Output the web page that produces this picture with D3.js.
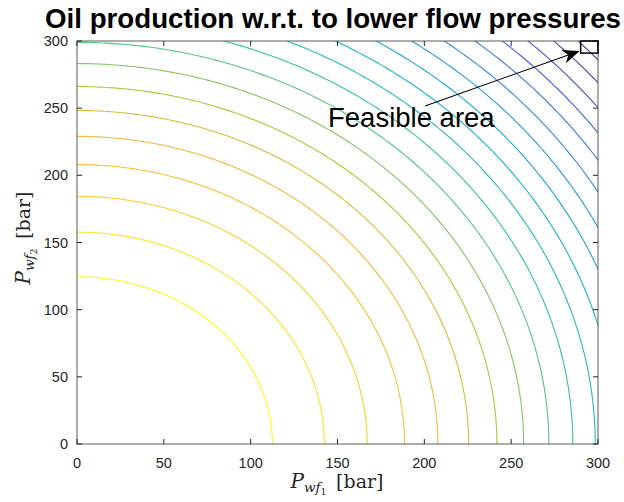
<!DOCTYPE html>
<html><head><meta charset="utf-8">
<script src="https://cdn.jsdelivr.net/npm/d3@7"></script>
<style>html,body{margin:0;padding:0;background:#fff;}</style>
</head><body>
<div id="chart"></div>
<script>
// Contour ellipses: x-axis semi-axis (a) and y-axis semi-axis (b), in bar
const contourA = [112.5,142.4,167.1,188.6,207.8,225.5,241.8,257.2,271.7,285.5,298.4,310.6,322.5,333.9,345.1,356.3,366.5,376.6,387.0,397.0];
const contourB = [124.5,157.7,184.4,208.0,229.0,248.3,266.1,283.2,299.0,314.1,328.2,341.7,354.8,367.3,379.6,391.9,403.2,414.3,425.7,436.7];
const xTicks = [0,50,100,150,200,250,300];
const yTicks = [0,50,100,150,200,250,300];
const feasibleBox = {x0:290, x1:300, y0:291, y1:300};
const titleText = "Oil production w.r.t. to lower flow pressures";
const annotationText = "Feasible area";

const W = 624, H = 502;
const L = 77, R = 598, T = 41, B = 444;
const svg = d3.select("#chart").append("svg").attr("width", W).attr("height", H)
  .style("font-family", "'Liberation Sans', Arial, Helvetica, sans-serif");

const x = d3.scaleLinear().domain([0,300]).range([L,R]);
const y = d3.scaleLinear().domain([0,300]).range([B,T]);

// parula-like colormap
const parula = d3.scaleLinear()
  .domain([0, 0.14, 0.28, 0.42, 0.56, 0.69, 0.8, 0.88, 1])
  .range(["#3e26a8","#4852f4","#2e87f7","#12b1d6","#37c897","#b2c53a","#f8b63f","#fcc830","#f9fb15"])
  .interpolate(d3.interpolateRgb);
// level index -> colour (innermost level = top of colormap)
const colorScale = d3.scaleLinear().domain([0, contourA.length - 0.5]).range([1, 0]);

svg.append("defs").append("clipPath").attr("id","clip")
  .append("rect").attr("x",L).attr("y",T).attr("width",R-L).attr("height",B-T);

const g = svg.append("g").attr("clip-path","url(#clip)");
const angles = d3.range(0, 201).map(i => i/200*Math.PI/2);
const line = d3.line().x(d => x(d[0])).y(d => y(d[1]));
contourA.forEach((a, i) => {
  const b = contourB[i];
  const pts = angles.map(t => [a*Math.cos(t), b*Math.sin(t)]);
  g.append("path").attr("d", line(pts)).attr("fill","none")
    .attr("stroke", parula(colorScale(i))).attr("stroke-width", 1.1);
});

// axes box
const axCol = "#262626";
svg.append("rect").attr("x",L).attr("y",T).attr("width",R-L).attr("height",B-T)
  .attr("fill","none").attr("stroke","#5a5a5a").attr("stroke-width",1);
const tl = 5;
const ax = svg.append("g");
xTicks.forEach(v => {
  ax.append("line").attr("x1",x(v)).attr("x2",x(v)).attr("y1",B).attr("y2",B-tl).attr("stroke",axCol);
  ax.append("line").attr("x1",x(v)).attr("x2",x(v)).attr("y1",T).attr("y2",T+tl).attr("stroke",axCol);
  ax.append("text").attr("x",x(v)).attr("y",B+24).attr("text-anchor","middle")
    .attr("font-size",14.5).attr("fill",axCol).text(v);
});
yTicks.forEach(v => {
  ax.append("line").attr("x1",L).attr("x2",L+tl).attr("y1",y(v)).attr("y2",y(v)).attr("stroke",axCol);
  ax.append("line").attr("x1",R).attr("x2",R-tl).attr("y1",y(v)).attr("y2",y(v)).attr("stroke",axCol);
  ax.append("text").attr("x",L-9).attr("y",y(v)+5).attr("text-anchor","end")
    .attr("font-size",14.5).attr("fill",axCol).text(v);
});

// axis labels (LaTeX style)
function mathLabel(sel, sub2) {
  sel.attr("font-family","'DejaVu Serif','Liberation Serif',serif").attr("fill",axCol);
  sel.append("tspan").attr("font-size",20).attr("font-style","italic").text("P");
  sel.append("tspan").attr("font-size",13.5).attr("font-style","italic").attr("dy",4).text("wf");
  sel.append("tspan").attr("font-size",9.5).attr("dy",2.5).text(sub2);
  sel.append("tspan").attr("font-size",19).attr("dy",-6.5).text("\u2002[bar]");
}
const xl = svg.append("text").attr("x",337).attr("y",488).attr("text-anchor","middle");
mathLabel(xl, "1");
const yl = svg.append("text").attr("transform",`translate(30,238) rotate(-90)`).attr("text-anchor","middle");
mathLabel(yl, "2");

// title
const title = svg.append("text").attr("x",333).attr("y",28).attr("text-anchor","middle")
  .attr("font-weight","bold").attr("font-size",22).attr("fill","#000").text(titleText);
const tw = title.node().getComputedTextLength();
title.attr("font-size", 22*576/tw);

// feasible box
svg.append("rect").attr("x",x(feasibleBox.x0)).attr("y",y(feasibleBox.y1))
  .attr("width",x(feasibleBox.x1)-x(feasibleBox.x0)).attr("height",y(feasibleBox.y0)-y(feasibleBox.y1))
  .attr("fill","none").attr("stroke","#000").attr("stroke-width",1.5);

// annotation
svg.append("text").attr("x",328).attr("y",127).attr("font-size",27.5).attr("fill","#000").text(annotationText);
const x1 = 425, y1 = 106, x2 = x(feasibleBox.x0)-1, y2 = 51;
const ang = Math.atan2(y2-y1, x2-x1);
const hl = 17, hw = 7, notch = 5;
svg.append("line").attr("x1",x1).attr("y1",y1)
  .attr("x2",x2 - (hl-notch)*Math.cos(ang)).attr("y2",y2 - (hl-notch)*Math.sin(ang))
  .attr("stroke","#000").attr("stroke-width",1.1);
const ca = Math.cos(ang), sa = Math.sin(ang);
const p = (u,v) => [x2 + u*ca - v*sa, y2 + u*sa + v*ca];
const head = [p(0,0), p(-hl, -hw), p(-(hl-notch), 0), p(-hl, hw)];
svg.append("path").attr("d","M"+head.map(d=>d.join(",")).join("L")+"Z").attr("fill","#000");
</script>
</body></html>
